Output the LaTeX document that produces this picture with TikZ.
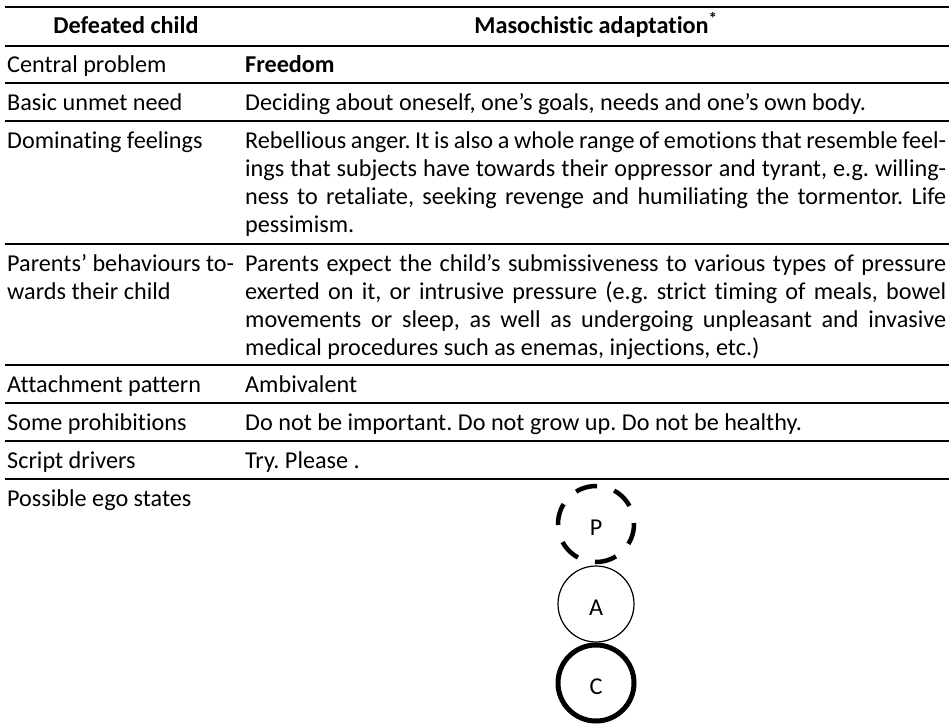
\documentclass[tikz,border=0pt]{standalone}
\usepackage{fontspec}
\setmainfont{Carlito}[Ligatures=NoCommon]
\usetikzlibrary{positioning}
\frenchspacing

\begin{document}
\begin{tikzpicture}[
    x=1pt, y=-1pt,
    every node/.style={inner sep=0pt, font=\fontsize{24.2}{28}\selectfont},
    rowlabel/.style={anchor=base west, text width=236pt, align=flush left},
    rowtext/.style={anchor=base west, text width=701pt, align=justify},
    head/.style={anchor=base, font=\fontsize{24.2}{28}\selectfont\bfseries},
    rule/.style={line width=2pt},
    ego/.style={circle, draw, minimum size=76pt, text height=22pt, text depth=0pt}
]
\useasboundingbox (0,0) rectangle (949,725);

\foreach \y in {7,46,83,121,244,365,403,441,479}
    \draw[rule] (5,\y) -- (949,\y);

\node[head] (hchild) at (126,34) {Defeated child};
\node[head] (hadapt) at (596,34) {Masochistic adaptation\textsuperscript{*}};

\node[rowlabel] (lcentral) at (7,72) {Central problem};
\node[rowtext] (tcentral) at (245,72) {\textbf{Freedom}};

\node[rowlabel] (lneed) at (7,110) {Basic unmet need};
\node[rowtext] (tneed) at (245,110) {Deciding about oneself, one’s goals, needs and one’s own body.};

\node[rowlabel] (lfeel) at (7,148) {Dominating feelings};
\node[rowtext] (tfeel) at (245,148) {Rebellious anger. It is also a whole range of emotions that resemble feel-\linebreak ings that subjects have towards their oppressor and tyrant, e.g. willing-\linebreak ness to retaliate, seeking revenge and humiliating the tormentor. Life\linebreak pessimism.};

\node[rowlabel] (lparents) at (7,271) {Parents’ behaviours to-\\wards their child};
\node[rowtext] (tparents) at (245,271) {Parents expect the child’s submissiveness to various types of pressure\linebreak exerted on it, or intrusive pressure (e.g. strict timing of meals, bowel\linebreak movements or sleep, as well as undergoing unpleasant and invasive\linebreak medical procedures such as enemas, injections, etc.)};

\node[rowlabel] (lattach) at (7,392) {Attachment pattern};
\node[rowtext] (tattach) at (245,392) {Ambivalent};

\node[rowlabel] (lprohib) at (7,430) {Some prohibitions};
\node[rowtext] (tprohib) at (245,430) {Do not be important. Do not grow up. Do not be healthy.};

\node[rowlabel] (ldrivers) at (7,468) {Script drivers};
\node[rowtext] (tdrivers) at (245,468) {Try. Please .};

\node[rowlabel] (lego) at (7,506) {Possible ego states};

\node[ego, line width=4.5pt, dash pattern=on 22pt off 17.8pt, dash phase=21pt] (parent) at (596,524) {P};
\node[ego, line width=1.2pt] (adult) at (596,604) {A};
\node[ego, line width=5pt] (child) at (596,683) {C};
\end{tikzpicture}
\end{document}
